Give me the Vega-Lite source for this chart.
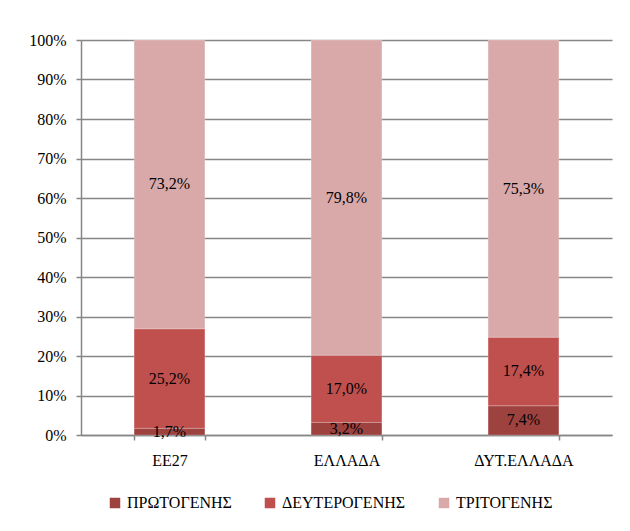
{
  "$schema": "https://vega.github.io/schema/vega-lite/v6.json",
  "autosize": {"type": "none"},
  "width": 531,
  "height": 395,
  "padding": {"left": 81, "top": 40, "right": 18, "bottom": 96},
  "background": "white",
  "config": {
    "locale": {"number": {"decimal": ",", "thousands": ".", "grouping": [3], "currency": ["", " €"]}},
    "font": "Liberation Serif",
    "view": {"stroke": null},
    "axis": {"labelFont": "Liberation Serif", "labelFontSize": 16, "labelColor": "#000000"},
    "axisY": {"tickCount": 10, "labelOverlap": false, "grid": true, "gridColor": "#868686", "gridWidth": 1.5, "domainColor": "#868686", "domainWidth": 1.5, "tickColor": "#868686", "tickWidth": 1.5, "tickSize": 5, "labelPadding": 10, "format": ".0%", "title": null},
    "legend": {"labelFont": "Liberation Serif", "labelFontSize": 16, "labelColor": "#000000"}
  },
  "data": {
    "values": [
      {"region": "ΕΕ27", "sector": "ΠΡΩΤΟΓΕΝΗΣ", "order": 1, "value": 0.017},
      {"region": "ΕΕ27", "sector": "ΔΕΥΤΕΡΟΓΕΝΗΣ", "order": 2, "value": 0.252},
      {"region": "ΕΕ27", "sector": "ΤΡΙΤΟΓΕΝΗΣ", "order": 3, "value": 0.732},
      {"region": "ΕΛΛΑΔΑ", "sector": "ΠΡΩΤΟΓΕΝΗΣ", "order": 1, "value": 0.032},
      {"region": "ΕΛΛΑΔΑ", "sector": "ΔΕΥΤΕΡΟΓΕΝΗΣ", "order": 2, "value": 0.170},
      {"region": "ΕΛΛΑΔΑ", "sector": "ΤΡΙΤΟΓΕΝΗΣ", "order": 3, "value": 0.798},
      {"region": "ΔΥΤ.ΕΛΛΑΔΑ", "sector": "ΠΡΩΤΟΓΕΝΗΣ", "order": 1, "value": 0.074},
      {"region": "ΔΥΤ.ΕΛΛΑΔΑ", "sector": "ΔΕΥΤΕΡΟΓΕΝΗΣ", "order": 2, "value": 0.174},
      {"region": "ΔΥΤ.ΕΛΛΑΔΑ", "sector": "ΤΡΙΤΟΓΕΝΗΣ", "order": 3, "value": 0.753}
    ]
  },
  "transform": [
    {"stack": "value", "groupby": ["region"], "sort": [{"field": "order", "order": "ascending"}], "offset": "normalize", "as": ["y0", "y1"]},
    {"calculate": "(datum.y0 + datum.y1) / 2", "as": "ymid"}
  ],
  "encoding": {
    "x": {
      "field": "region", "type": "nominal", "sort": ["ΕΕ27", "ΕΛΛΑΔΑ", "ΔΥΤ.ΕΛΛΑΔΑ"],
      "scale": {"paddingInner": 0.6, "paddingOuter": 0.3},
      "axis": {"title": null, "labelAngle": 0, "domainColor": "#868686", "domainWidth": 1.5, "tickColor": "#868686", "tickWidth": 1.5, "tickSize": 5, "tickBand": "extent", "labelPadding": 12, "grid": false}
    }
  },
  "layer": [
    {
      "mark": {"type": "bar", "stroke": "#ffffff", "strokeWidth": 0.5, "strokeOpacity": 0.4},
      "encoding": {
        "y": {
          "field": "y0", "type": "quantitative",
          "scale": {"domain": [0, 1], "nice": false, "zero": true}
        },
        "y2": {"field": "y1"},
        "color": {
          "field": "sector", "type": "nominal",
          "sort": ["ΠΡΩΤΟΓΕΝΗΣ", "ΔΕΥΤΕΡΟΓΕΝΗΣ", "ΤΡΙΤΟΓΕΝΗΣ"],
          "scale": {"domain": ["ΠΡΩΤΟΓΕΝΗΣ", "ΔΕΥΤΕΡΟΓΕΝΗΣ", "ΤΡΙΤΟΓΕΝΗΣ"], "range": ["#9e4240", "#c0504d", "#d9a9aa"]},
          "legend": {"title": null, "orient": "none", "direction": "horizontal", "legendX": 26, "legendY": 455, "symbolType": "square", "symbolSize": 110, "symbolStrokeWidth": 0, "columnPadding": 30, "labelOffset": 4}
        }
      }
    },
    {
      "mark": {"type": "text", "fontSize": 16, "color": "#000000", "baseline": "middle", "font": "Liberation Serif"},
      "encoding": {
        "y": {"field": "ymid", "type": "quantitative"},
        "text": {"field": "value", "type": "quantitative", "format": ".1%"}
      }
    }
  ]
}
